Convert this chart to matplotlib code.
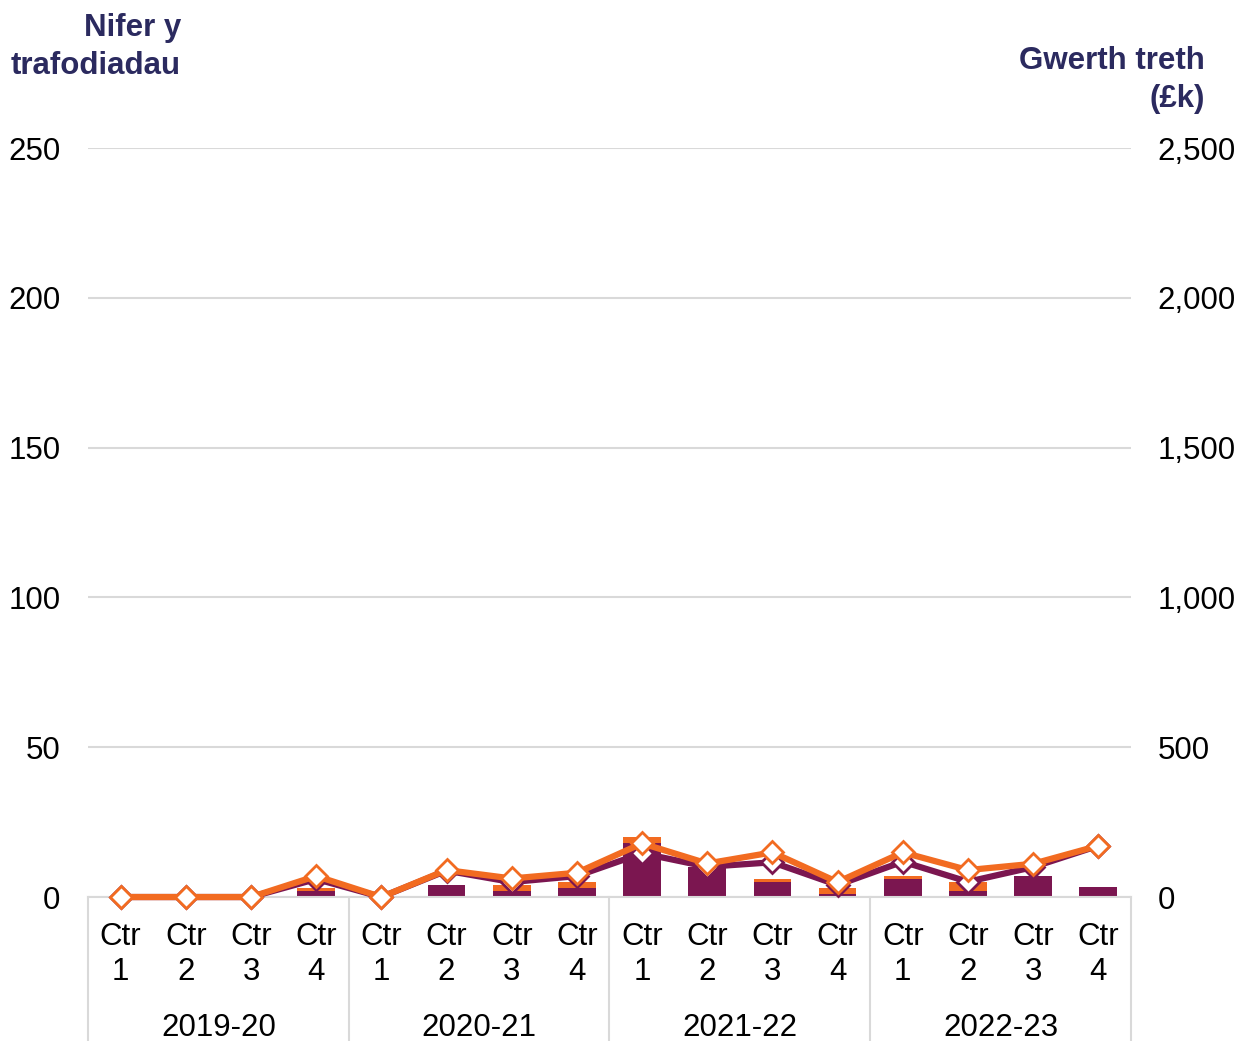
import matplotlib.pyplot as plt
from matplotlib.lines import Line2D
from matplotlib.ticker import FuncFormatter

plt.rcParams['font.family'] = ['Liberation Sans', 'DejaVu Sans']

# data
years = ['2019-20', '2020-21', '2021-22', '2022-23']
quarters = ['Ctr\n1', 'Ctr\n2', 'Ctr\n3', 'Ctr\n4']
count_purple = [0, 0, 0, 2, 0, 4, 2, 3, 18, 10, 5, 1, 6, 2, 7, 3.5]
count_orange = [0, 0, 0, 1, 0, 0, 2, 2, 2, 0, 1, 2, 1, 3, 0, 0]
value_purple = [0, 0, 0, 60, 0, 88, 50, 70, 146, 101, 116, 40, 118, 51, 100, 171]
value_orange = [0, 0, 0, 70, 0, 90, 62, 81, 179, 112, 149, 50, 149, 90, 111, 171]

purple = '#7B1650'
orange = '#F26B21'
navy = '#2B2A5F'
grey = '#D9D9D9'
fs = 22.5

fig = plt.figure(figsize=(12.4, 10.41), dpi=100)
ax = fig.add_axes([0.071, 0.1383, 0.841, 0.7195])
ax2 = ax.twinx()

x = list(range(len(count_purple)))
ax.bar(x, count_purple, width=0.58, color=purple, zorder=2)
ax.bar(x, count_orange, width=0.58, bottom=count_purple, color=orange, zorder=2)

ax2.plot(x, value_purple, color=purple, lw=4.5, marker='D', ms=11.5,
         mfc='white', mec=purple, mew=2, zorder=3, clip_on=False)
ax2.plot(x, value_orange, color=orange, lw=4.5, marker='D', ms=11.5,
         mfc='white', mec=orange, mew=2, zorder=4, clip_on=False)

ax.set_xlim(-0.5, 15.5)
ax.set_ylim(0, 250)
ax2.set_ylim(0, 2500)
ax.set_yticks(range(0, 251, 50))
ax2.set_yticks(range(0, 2501, 500))
ax2.yaxis.set_major_formatter(FuncFormatter(lambda v, p: f'{int(v):,}'))
ax.set_xticks([])

ax.grid(axis='y', color=grey, lw=1.5, zorder=0)
ax.set_axisbelow(True)
for a in (ax, ax2):
    for s in a.spines.values():
        s.set_visible(False)
    a.tick_params(axis='y', length=0, labelsize=fs, colors='black')
ax.tick_params(axis='y', pad=20)
ax2.tick_params(axis='y', pad=19)
ax.spines['bottom'].set_visible(True)
ax.spines['bottom'].set_color(grey)
ax.spines['bottom'].set_linewidth(1.5)

tr = ax.get_xaxis_transform()
for i in x:
    top, bot = quarters[i % 4].split('\n')
    ax.text(i, -0.0527, top, transform=tr, ha='center', va='center', fontsize=fs)
    ax.text(i, -0.0995, bot, transform=tr, ha='center', va='center', fontsize=fs)
for k, yr in enumerate(years):
    ax.text(4 * k + 1.5, -0.1746, yr, transform=tr, ha='center', va='center', fontsize=fs)
for sx in [-0.5, 3.5, 7.5, 11.5, 15.5]:
    ax.add_line(Line2D([sx, sx], [0, -0.2], transform=tr, color=grey, lw=1.5, clip_on=False))

fig.text(181 / 1240, 1 - 47 / 1041, 'Nifer y\ntrafodiadau', ha='right', va='center',
         fontsize=fs, fontweight='bold', color=navy, linespacing=1.32)
fig.text(1205 / 1240, 1 - 80 / 1041, 'Gwerth treth\n(£k)', ha='right', va='center',
         fontsize=fs, fontweight='bold', color=navy, linespacing=1.32)

fig.savefig('out.png', dpi=100)
